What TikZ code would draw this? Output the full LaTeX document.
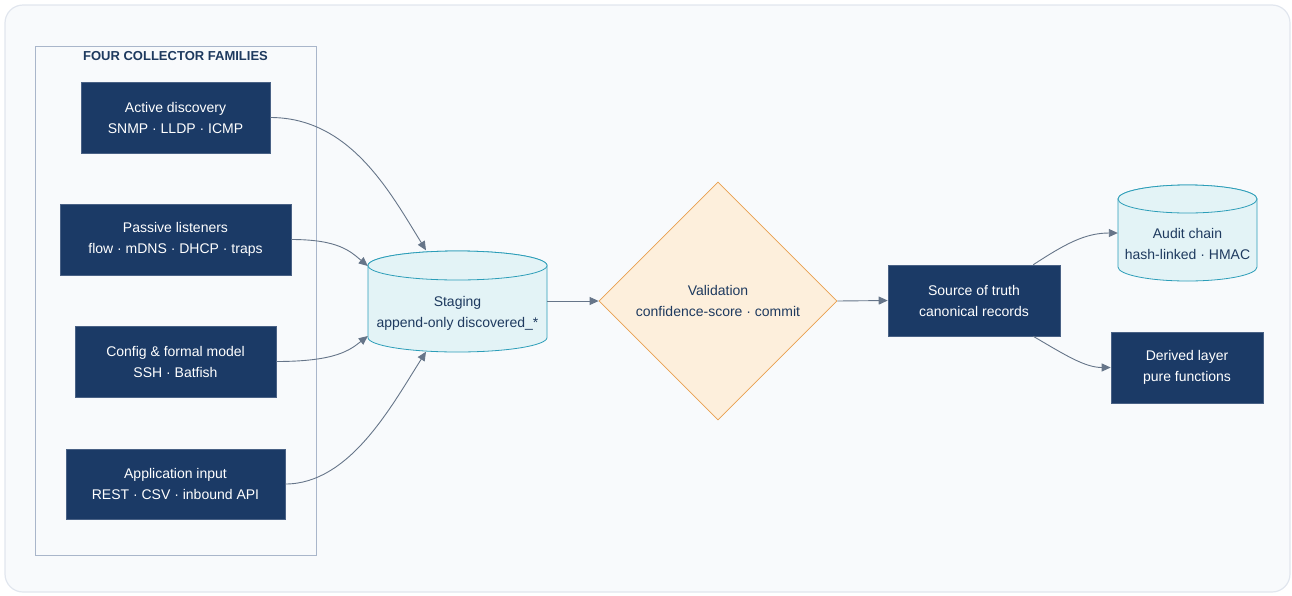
\documentclass[tikz,border=0pt]{standalone}
\usepackage{fontspec}
\setmainfont{Liberation Sans}
\usetikzlibrary{arrows.meta,shapes.geometric,calc}
\definecolor{navy}{HTML}{1B3A66}
\definecolor{navytext}{HTML}{1E3A5F}
\definecolor{edgec}{HTML}{667589}
\definecolor{groupc}{HTML}{A9B6CA}
\definecolor{framec}{HTML}{E1E6EE}
\definecolor{bgc}{HTML}{F8FAFC}
\definecolor{cylfill}{HTML}{E3F3F6}
\definecolor{cylline}{HTML}{2B9DB8}
\definecolor{diafill}{HTML}{FDEFDC}
\definecolor{dialine}{HTML}{E9A04F}
\begin{document}
\begin{tikzpicture}[x=1pt,y=-1pt,
  box/.style={draw=navy!80!white,line width=0.6pt,fill=navy,text=white,align=center,inner sep=0pt,
    font=\fontsize{14}{21}\selectfont},
  ghost/.style={inner sep=0pt,align=center,text=navytext,font=\fontsize{14}{21}\selectfont},
  cylst/.style={fill=cylfill,draw=cylline,line width=0.8pt},
  conn/.style={draw=edgec,line width=0.9pt,-{Triangle[length=9pt,width=8pt]}}
]
\useasboundingbox (0,0) rectangle (1292,595);
\draw[draw=framec,fill=bgc,line width=1.2pt,rounded corners=18pt] (5,5) rectangle (1290,592);
\draw[draw=groupc,line width=0.8pt] (35,46) rectangle (316,555);
\node[font=\bfseries\fontsize{13}{15}\selectfont,text=navytext] (gtitle) at (175.5,56) {FOUR COLLECTOR FAMILIES};

\node[box,minimum width=189pt,minimum height=71pt] (act) at (175.5,117.5) {Active discovery\\SNMP · LLDP · ICMP};
\node[box,minimum width=231pt,minimum height=71pt] (pas) at (175.5,239.5) {Passive listeners\\flow · mDNS · DHCP · traps};
\node[box,minimum width=201pt,minimum height=71pt] (cfg) at (175.5,361.5) {Config \& formal model\\SSH · Batfish};
\node[box,minimum width=219pt,minimum height=70pt] (app) at (175.5,484) {Application input\\REST · CSV · inbound API};

% staging cylinder
\path[cylst] (368,265.5) -- (368,337.5) arc[start angle=180,end angle=360,x radius=89.5pt,y radius=14.5pt] -- (547,265.5) arc[start angle=0,end angle=180,x radius=89.5pt,y radius=14.5pt] -- cycle;
\draw[cylst] (457.5,265.5) ellipse[x radius=89.5pt,y radius=14.5pt];
\node[inner sep=0pt,minimum width=179pt,minimum height=101pt] (stg) at (457.5,301) {};
\node[ghost] (stgt) at (457.5,313.5) {Staging\\append-only discovered\_*};

% validation diamond
\node[diamond,aspect=1,draw=dialine,fill=diafill,line width=0.8pt,minimum width=238pt,minimum height=238pt,inner sep=0pt,text=navytext,align=center,font=\fontsize{14}{21}\selectfont] (val) at (718,301) {Validation\\confidence-score · commit};

\node[box,minimum width=172pt,minimum height=71pt] (sot) at (974,300.5) {Source of truth\\canonical records};

% audit cylinder
\path[cylst] (1118,199) -- (1118,267) arc[start angle=180,end angle=360,x radius=69.5pt,y radius=14pt] -- (1257,199) arc[start angle=0,end angle=180,x radius=69.5pt,y radius=14pt] -- cycle;
\draw[cylst] (1187.5,199) ellipse[x radius=69.5pt,y radius=14pt];
\node[inner sep=0pt,minimum width=139pt,minimum height=96pt] (aud) at (1187.5,233) {};
\node[ghost] (audt) at (1187.5,243.5) {Audit chain\\hash-linked · HMAC};

\node[box,minimum width=152pt,minimum height=71pt] (der) at (1187,367.5) {Derived layer\\pure functions};

% connectors
\draw[conn] (act.east) .. controls (350,117.5) and (390,192) .. ($(stg.north)+(-31.5,0)$);
\draw[conn] (pas.east) .. controls (338,239.5) and (350,251) .. ($(stg.west)+(0,-35)$);
\draw[conn] (cfg.east) .. controls (336,361.5) and (350,350) .. ($(stg.west)+(0,35)$);
\draw[conn] (app.east) .. controls (350,484) and (392,405) .. ($(stg.south)+(-31.5,0)$);
\draw[conn] (stg.east) -- (val.west);
\draw[conn] (val.east) -- (sot.west);
\draw[conn] ($(sot.north east)+(-27,0)$) .. controls (1065,244) and (1085,233) .. (aud.west);
\draw[conn] ($(sot.south east)+(-27,0)$) .. controls (1065,355) and (1085,367.5) .. (der.west);
\end{tikzpicture}
\end{document}
